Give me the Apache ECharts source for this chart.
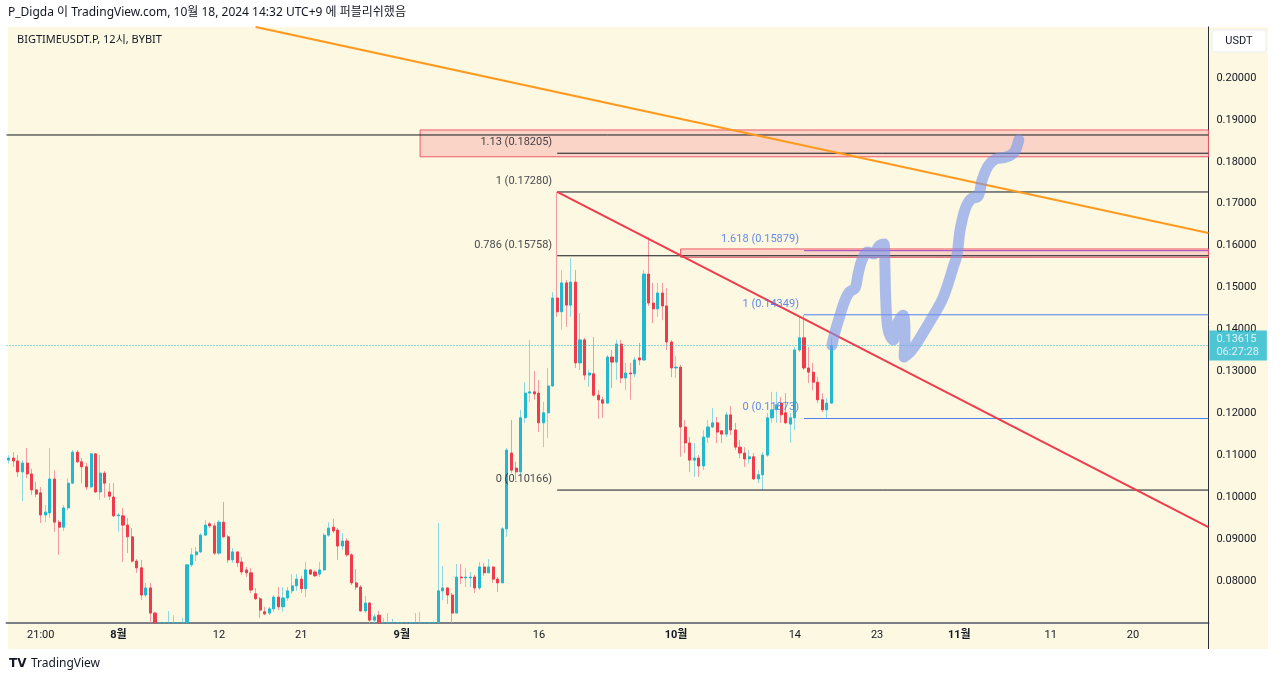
<!DOCTYPE html>
<html><head><meta charset="utf-8">
<script src="https://cdn.jsdelivr.net/npm/echarts@6/dist/echarts.min.js"></script>
<style>html,body{margin:0;padding:0;background:#ffffff}#c{width:1280px;height:681px}</style>
</head><body><div id="c"></div>
<script>
// ---------------- data ----------------
const SLOT_COUNT = 263; // 12h slots, first = 2024-07-20 09:00 (UTC+9)
const tickIndex = [7, 24, 46, 64, 86, 116, 146, 172, 190, 208, 228, 246];
const tickText  = ['21:00', '8월', '12', '21', '9월', '16', '10월', '14', '23', '11월', '11', '20'];
const tickBold  = [false, true, false, false, true, false, true, false, false, true, false, false];

const opens = [
0.1088,0.1093,0.1086,0.1060,0.1081,0.1055,0.1017,0.1010,0.0957,0.0962,
0.1043,0.0940,0.0928,0.0974,0.1033,0.1107,0.1084,0.1072,0.1024,0.1103,
0.1012,0.1057,0.1012,0.1000,0.0955,0.0955,0.0933,0.0905,0.0847,0.0831,
0.0766,0.0783,0.0723,0.0690,0.0670,0.0660,0.0685,0.0675,0.0680,0.0690,
0.0838,0.0862,0.0869,0.0909,0.0936,0.0931,0.0866,0.0940,0.0905,0.0850,
0.0869,0.0845,0.0826,0.0819,0.0769,0.0757,0.0726,0.0723,0.0733,0.0761,
0.0738,0.0759,0.0776,0.0788,0.0804,0.0781,0.0826,0.0821,0.0816,0.0826,
0.0909,0.0928,0.0921,0.0883,0.0895,0.0862,0.0795,0.0785,0.0728,0.0747,
0.0706,0.0718,0.0695,0.0690,0.0700,0.0692,0.0685,0.0678,0.0682,0.0688,
0.0698,0.0690,0.0685,0.0690,0.0695,0.0776,0.0783,0.0766,0.0723,0.0809,
0.0807,0.0807,0.0809,0.0783,0.0833,0.0819,0.0833,0.0804,0.0795,0.0924,
0.1105,0.1069,0.1060,0.1189,0.1248,0.1251,0.1248,0.1177,0.1201,0.1265,
0.1475,0.1442,0.1511,0.1458,0.1513,0.1320,0.1375,0.1291,0.1294,0.1243,
0.1232,0.1224,0.1334,0.1322,0.1365,0.1284,0.1296,0.1294,0.1332,0.1327,
0.1532,0.1463,0.1449,0.1487,0.1456,0.1370,0.1308,0.1310,0.1167,0.1129,
0.1088,0.1093,0.1074,0.1143,0.1167,0.1177,0.1158,0.1150,0.1196,0.1160,
0.1119,0.1105,0.1091,0.1096,0.1043,0.1053,0.1100,0.1189,0.1208,0.1224,
0.1201,0.1174,0.1189,0.1351,0.1380,0.1308,0.1298,0.1274,0.1232,0.1208,
0.1224];
const closes = [
0.1093,0.1086,0.1060,0.1081,0.1055,0.1017,0.1007,0.0957,0.0964,0.1043,
0.0940,0.0928,0.0974,0.1033,0.1107,0.1084,0.1072,0.1024,0.1103,0.1012,
0.1057,0.1033,0.1002,0.0955,0.0957,0.0933,0.0905,0.0847,0.0831,0.0766,
0.0783,0.0723,0.0690,0.0670,0.0660,0.0685,0.0675,0.0680,0.0690,0.0838,
0.0862,0.0869,0.0909,0.0933,0.0931,0.0866,0.0940,0.0905,0.0850,0.0869,
0.0843,0.0821,0.0819,0.0778,0.0757,0.0730,0.0721,0.0733,0.0761,0.0738,
0.0759,0.0776,0.0788,0.0804,0.0781,0.0826,0.0816,0.0812,0.0826,0.0909,
0.0926,0.0919,0.0883,0.0895,0.0862,0.0795,0.0785,0.0728,0.0747,0.0706,
0.0714,0.0695,0.0690,0.0700,0.0692,0.0685,0.0678,0.0682,0.0688,0.0698,
0.0690,0.0685,0.0690,0.0695,0.0776,0.0783,0.0766,0.0723,0.0809,0.0807,
0.0809,0.0809,0.0783,0.0833,0.0819,0.0833,0.0804,0.0795,0.0924,0.1112,
0.1064,0.1060,0.1189,0.1248,0.1251,0.1246,0.1177,0.1201,0.1265,0.1475,
0.1442,0.1511,0.1458,0.1513,0.1320,0.1375,0.1291,0.1296,0.1243,0.1232,
0.1224,0.1334,0.1322,0.1365,0.1284,0.1296,0.1294,0.1327,0.1327,0.1532,
0.1463,0.1449,0.1487,0.1456,0.1370,0.1308,0.1310,0.1167,0.1129,0.1088,
0.1093,0.1074,0.1143,0.1167,0.1177,0.1155,0.1150,0.1196,0.1160,0.1119,
0.1105,0.1091,0.1096,0.1043,0.1053,0.1100,0.1189,0.1208,0.1220,0.1196,
0.1177,0.1189,0.1351,0.1380,0.1308,0.1298,0.1274,0.1232,0.1208,0.1224,
0.13615];
const lows = [
0.1080,0.1072,0.1048,0.0990,0.1045,0.1005,0.1000,0.0938,0.0940,0.0950,
0.0917,0.0862,0.0919,0.0969,0.1031,0.1081,0.1033,0.1017,0.1022,0.1010,
0.0993,0.0998,0.0993,0.0952,0.0917,0.0845,0.0866,0.0843,0.0819,0.0754,
0.0761,0.0690,0.0670,0.0640,0.0620,0.0650,0.0660,0.0665,0.0670,0.0685,
0.0833,0.0847,0.0866,0.0907,0.0926,0.0862,0.0862,0.0902,0.0843,0.0843,
0.0833,0.0814,0.0809,0.0771,0.0754,0.0711,0.0718,0.0718,0.0726,0.0730,
0.0726,0.0752,0.0769,0.0776,0.0771,0.0761,0.0814,0.0809,0.0809,0.0823,
0.0905,0.0914,0.0850,0.0874,0.0857,0.0790,0.0778,0.0726,0.0723,0.0700,
0.0700,0.0685,0.0675,0.0680,0.0680,0.0670,0.0665,0.0668,0.0672,0.0678,
0.0675,0.0670,0.0672,0.0678,0.0690,0.0754,0.0745,0.0700,0.0723,0.0792,
0.0785,0.0785,0.0771,0.0778,0.0812,0.0819,0.0795,0.0773,0.0795,0.0905,
0.1057,0.1041,0.1053,0.1177,0.1227,0.1232,0.1155,0.1119,0.1141,0.1263,
0.1430,0.1399,0.1406,0.1430,0.1308,0.1303,0.1279,0.1263,0.1239,0.1186,
0.1189,0.1224,0.1260,0.1279,0.1272,0.1255,0.1232,0.1286,0.1315,0.1325,
0.1456,0.1415,0.1430,0.1422,0.1351,0.1286,0.1284,0.1096,0.1105,0.1060,
0.1048,0.1048,0.1064,0.1129,0.1165,0.1129,0.1129,0.1143,0.1148,0.1112,
0.1093,0.1072,0.1081,0.1041,0.1033,0.10166,0.1096,0.1177,0.1177,0.1177,
0.1174,0.1129,0.1160,0.1346,0.1303,0.1272,0.1255,0.1224,0.1203,0.11873,
0.1224];
const highs = [
0.1100,0.1107,0.1100,0.1088,0.1117,0.1067,0.1036,0.1024,0.0981,0.1117,
0.1064,0.0945,0.0981,0.1045,0.1112,0.1112,0.1093,0.1081,0.1105,0.1105,
0.1100,0.1062,0.1033,0.1033,0.0962,0.0974,0.0950,0.0926,0.0852,0.0850,
0.0795,0.0795,0.0726,0.0700,0.0698,0.0728,0.0718,0.0700,0.0711,0.0840,
0.0878,0.0881,0.0914,0.0945,0.0940,0.0938,0.0945,0.0988,0.0909,0.0878,
0.0852,0.0857,0.0833,0.0831,0.0783,0.0761,0.0738,0.0738,0.0766,0.0785,
0.0785,0.0785,0.0816,0.0816,0.0812,0.0845,0.0828,0.0826,0.0845,0.0914,
0.0940,0.0948,0.0926,0.0914,0.0902,0.0866,0.0828,0.0790,0.0764,0.0749,
0.0721,0.0728,0.0711,0.0723,0.0709,0.0700,0.0698,0.0695,0.0702,0.0723,
0.0726,0.0702,0.0700,0.0703,0.0938,0.0835,0.0785,0.0771,0.0840,0.0840,
0.0831,0.0821,0.0814,0.0845,0.0843,0.0852,0.0835,0.0809,0.0928,0.1117,
0.1184,0.1084,0.1208,0.1274,0.1375,0.1301,0.1279,0.1227,0.1308,0.1489,
0.1728,0.1542,0.1518,0.1570,0.1542,0.1439,0.1380,0.1303,0.1382,0.1255,
0.1239,0.1339,0.1351,0.1375,0.1375,0.1320,0.1320,0.1334,0.1368,0.1542,
0.1620,0.1511,0.1511,0.1511,0.1499,0.1375,0.1337,0.1315,0.1184,0.1143,
0.1129,0.1100,0.1160,0.1184,0.1212,0.1191,0.1160,0.1203,0.1217,0.1177,
0.1136,0.1119,0.1112,0.1105,0.1064,0.1107,0.1201,0.1251,0.1251,0.1239,
0.1248,0.1201,0.1358,0.1430,0.14349,0.1358,0.1320,0.1286,0.1248,0.1236,
0.1380];

// price-axis tick settings
const priceMin = 0.07, priceMax = 0.2122, priceStep = 0.01;
const lastPrice = 0.13615, lastCountdown = '06:27:28';

// drawings (x in 12h-slot units, y in price)
const fibBlackAnchor = 120, fibBlueAnchor = 174, rightEnd = 262.5;
const fibBlackLevels = [0.18205, 0.17280, 0.15758, 0.10166];
const fibBlackText   = ['1.13 (0.18205)', '1 (0.17280)', '0.786 (0.15758)', '0 (0.10166)'];
const fibBlueLevels  = [0.15879, 0.14349, 0.11873];
const fibBlueText    = ['1.618 (0.15879)', '1 (0.14349)', '0 (0.11873)'];
const resistanceLine = 0.1864;
const zoneHigh = [90, 0.1876, 0.1812];      // [x start, top, bottom]
const zoneMid  = [147, 0.1592, 0.1572];
const orangeLine = [[54, 0.2122], [262.5, 0.1630]];
const redTrend   = [[120, 0.1728], [262.5, 0.0928]];
const brushX = [180.1,180.8,181.7,182.8,183.9,185.2,185.8,186.7,188.0,189.3,190.4,191.5,191.7,191.9,192.4,193.5,194.6,195.7,196.1,195.9,197.6,199.8,202.0,204.2,205.5,206.6,207.5,208.1,209.2,210.5,212.1,213.0,214.3,216.0,218.2,220.0,221.0];
const brushY = [0.1362,0.1394,0.1427,0.1465,0.1489,0.1499,0.1530,0.1566,0.1585,0.1580,0.1599,0.1604,0.1554,0.1470,0.1399,0.1375,0.1418,0.1434,0.1387,0.1334,0.1351,0.1387,0.1427,0.1470,0.1508,0.1547,0.1578,0.1633,0.1685,0.1711,0.1718,0.1757,0.1790,0.1807,0.1811,0.1823,0.1852];

// ---------------- build ----------------
const START = Date.UTC(2024, 6, 20, 0, 0);
const categories = [];
for (let i = 0; i < SLOT_COUNT; i++) {
  const d = new Date(START + (i * 12 + 9) * 3600000);
  categories.push((d.getUTCMonth() + 1) + '/' + d.getUTCDate() + ' ' + String(d.getUTCHours()).padStart(2, '0') + ':00');
}
// values below the visible price range are drawn at the pane's bottom edge (clipped)
const vis = v => Math.max(v, priceMin);
const full = opens.map((o, i) => [vis(o), vis(closes[i]), vis(lows[i]), vis(highs[i])]);
const bodies = opens.map((o, i) => {
  const lo = Math.min(o, closes[i]), hi = Math.max(o, closes[i]);
  return [vis(o), vis(closes[i]), vis(lo), vis(hi)];
});

const UP = '#22b8d0', DOWN = '#ef3b4c', UPW = '#8ed8e4', DOWNW = '#f39aa3';
const CREAM = '#fdf8e2';
const FONT = 'Roboto, "Noto Sans", "Noto Sans CJK KR", sans-serif';
const BLUE = '#4f7ff0';

function seg(points, color, width, type, z) {
  return { type: 'line', xAxisIndex: 1, yAxisIndex: 0, data: points, symbol: 'none', silent: true,
    lineStyle: { color, width, type: type || 'solid' }, z: z || 4, clip: true, animation: false };
}
const series = [];
series.push({ type: 'candlestick', xAxisIndex: 0, data: full, barWidth: 1, clip: true,
  itemStyle: { color: UPW, color0: DOWNW, borderColor: UPW, borderColor0: DOWNW, borderWidth: 1 }, z: 2 });
series.push({ type: 'candlestick', xAxisIndex: 0, data: bodies, barWidth: 2.6, clip: true,
  itemStyle: { color: UP, color0: DOWN, borderColor: UP, borderColor0: DOWN, borderWidth: 1 }, z: 3 });

// zones
series.push({ type: 'line', xAxisIndex: 1, yAxisIndex: 0, data: [], symbol: 'none', silent: true, z: 1,
  markArea: { silent: true, itemStyle: { color: 'rgba(240,70,95,0.2)', borderColor: '#f05a6a', borderWidth: 1 },
    data: [
      [{ coord: [zoneHigh[0], zoneHigh[1]] }, { coord: [rightEnd, zoneHigh[2]] }],
      [{ coord: [zoneMid[0], zoneMid[1]] }, { coord: [rightEnd, zoneMid[2]] }]
    ] } });
// horizontal lines
series.push(seg([[-0.5, resistanceLine], [rightEnd, resistanceLine]], '#131722', 1));
fibBlackLevels.forEach(v => series.push(seg([[fibBlackAnchor, v], [rightEnd, v]], '#131722', 1)));
fibBlueLevels.forEach((v, i) => series.push(seg([[fibBlueAnchor, v], [rightEnd, v]], i === 0 ? '#9c3fc4' : BLUE, 1)));
series.push(seg([[-0.5, lastPrice], [rightEnd, lastPrice]], '#22b8d0', 1, [1, 2]));
series.push(seg(orangeLine, '#ff9a1f', 2, 'solid', 5));
series.push(seg(redTrend, '#ef3b4c', 2, 'solid', 5));
// brush drawing
series.push({ type: 'line', xAxisIndex: 1, yAxisIndex: 0, data: brushX.map((x, i) => [x, brushY[i]]),
  symbol: 'none', silent: true, smooth: 0.35, z: 6,
  lineStyle: { color: 'rgba(120,150,238,0.62)', width: 11, cap: 'round', join: 'round' } });
// fib labels
function labels(anchor, levels, texts, color) {
  return { type: 'scatter', xAxisIndex: 1, yAxisIndex: 0, symbolSize: 0, silent: true, z: 7,
    data: levels.map((v, i) => [anchor, v, texts[i]]),
    label: { show: true, position: 'left', distance: 5, offset: [0, -11], formatter: p => p.data[2],
      color, fontSize: 11, fontFamily: FONT } };
}
series.push(labels(fibBlackAnchor, fibBlackLevels, fibBlackText, '#131722'));
series.push(labels(fibBlueAnchor, fibBlueLevels, fibBlueText, '#3d6fe6'));
// last price tag
series.push({ type: 'scatter', xAxisIndex: 1, yAxisIndex: 0, symbolSize: 0, silent: true, z: 8, clip: false,
  data: [[rightEnd, lastPrice]],
  label: { show: true, position: 'right', distance: 1, formatter: lastPrice.toFixed(5) + '\n' + lastCountdown,
    backgroundColor: '#22b8d0', color: '#ffffff', fontSize: 11, lineHeight: 13, padding: [2, 8, 2, 7],
    fontFamily: FONT } });

const option = {
  animation: false,
  backgroundColor: '#ffffff',
  grid: { left: 6.515, right: 71.575, top: 26.9, bottom: 58.3, containLabel: false },
  xAxis: [
    { type: 'category', data: categories, boundaryGap: true,
      axisLine: { show: true, onZero: false, lineStyle: { color: '#7b7e86', width: 2 } }, axisTick: { show: false },
      splitLine: { show: false },
      axisLabel: { interval: (i) => tickIndex.indexOf(i) >= 0, margin: 7, color: '#131722', fontSize: 11, fontFamily: FONT,
        formatter: (val, i) => { const k = tickIndex.indexOf(i); if (k < 0) return ''; return tickBold[k] ? '{b|' + tickText[k] + '}' : tickText[k]; },
        rich: { b: { fontWeight: 'bold', fontSize: 11, color: '#131722', fontFamily: FONT } } } },
    { type: 'value', min: -0.5, max: 262.5, show: false, axisLine: { onZero: false } }
  ],
  yAxis: [{ type: 'value', position: 'right', min: priceMin, max: priceMax, interval: priceStep, scale: true,
    axisLine: { show: true, onZero: false, lineStyle: { color: '#2a2e39', width: 1 } }, axisTick: { show: false },
    splitLine: { show: false },
    axisLabel: { margin: 8, color: '#131722', fontSize: 11, fontFamily: FONT, showMinLabel: false, showMaxLabel: false,
      formatter: v => v.toFixed(5) } }],
  graphic: [
    { type: 'rect', z: -10, silent: true, shape: { x: 8, y: 27, width: 1260, height: 622 }, style: { fill: CREAM } },
    { type: 'line', z: 10, silent: true, shape: { x1: 1208.5, y1: 622, x2: 1208.5, y2: 649 }, style: { stroke: '#2a2e39', lineWidth: 1 } },
    { type: 'text', z: 10, silent: true, x: 8, y: 13, style: { text: 'P_Digda 이 TradingView.com, 10월 18, 2024 14:32 UTC+9 에 퍼블리쉬했음',
      fill: '#131722', font: '12px "Noto Sans", "Noto Sans CJK KR", sans-serif', verticalAlign: 'middle' } },
    { type: 'text', z: 10, silent: true, x: 17, y: 40, style: { text: 'BIGTIMEUSDT.P, 12시, BYBIT',
      fill: '#131722', font: '11px "Noto Sans", "Noto Sans CJK KR", sans-serif', verticalAlign: 'middle' } },
    { type: 'rect', z: 10, silent: true, shape: { x: 1212, y: 30, width: 54, height: 22, r: 3 }, style: { fill: '#ffffff', stroke: '#eceff4' } },
    { type: 'text', z: 11, silent: true, x: 1239, y: 41, style: { text: 'USDT', fill: '#131722',
      font: '11px Roboto, sans-serif', align: 'center', verticalAlign: 'middle' } },
    { type: 'text', z: 10, silent: true, x: 9, y: 664, style: { text: 'TV', fill: '#131722',
      font: '900 12px "DejaVu Sans", sans-serif', verticalAlign: 'middle' } },
    { type: 'text', z: 10, silent: true, x: 31, y: 664, style: { text: 'TradingView', fill: '#131722',
      font: '12px "Noto Sans", sans-serif', verticalAlign: 'middle' } }
  ],
  series
};
const chart = echarts.init(document.getElementById('c'), null, { renderer: 'canvas' });
chart.setOption(option);
</script>
</body></html>
